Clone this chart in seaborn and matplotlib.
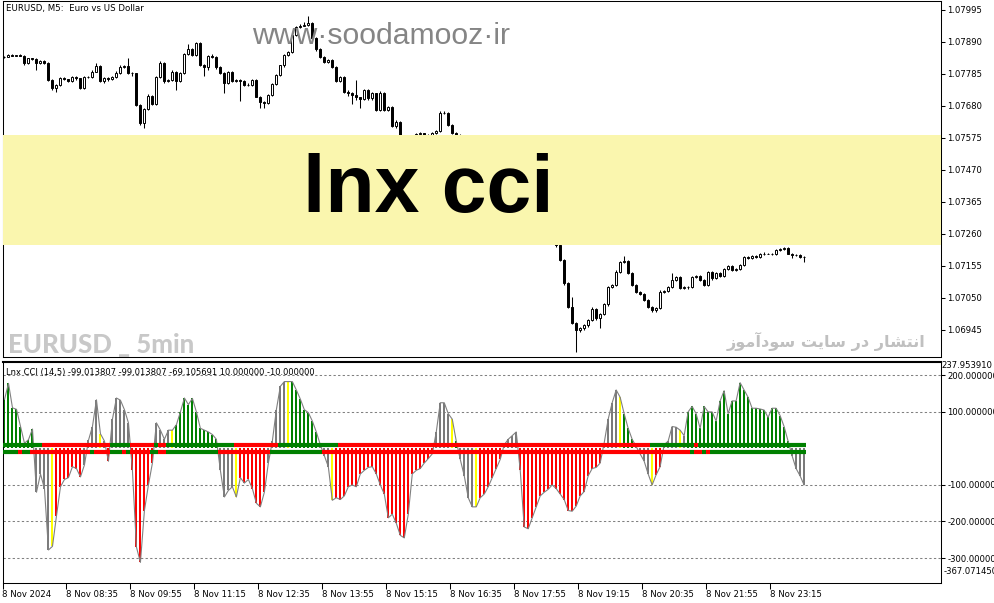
import numpy as np
import matplotlib
matplotlib.use("Agg")
import matplotlib.pyplot as plt
import seaborn as sns
from matplotlib.patches import Rectangle

# ------------------------------------------------------------------ data
# EURUSD M5 closes (in points, 1 point = 0.00001), bars 07:15 .. 23:55
first_open = 107840
closes = [
    107842, 107847, 107845, 107846, 107845, 107820, 107836, 107833, 107822, 107829,
    107822, 107765, 107738, 107749, 107771, 107767, 107763, 107776, 107771, 107738,
    107774, 107776, 107793, 107811, 107763, 107771, 107767, 107776, 107789, 107807,
    107811, 107789, 107787, 107683, 107623, 107669, 107713, 107686, 107774, 107820,
    107763, 107765, 107792, 107761, 107789, 107851, 107868, 107847, 107886, 107814,
    107807, 107845, 107840, 107807, 107789, 107754, 107792, 107762, 107765, 107761,
    107750, 107748, 107764, 107711, 107694, 107689, 107715, 107752, 107781, 107813,
    107847, 107858, 107913, 107940, 107944, 107946, 107951, 107902, 107866, 107842,
    107825, 107831, 107809, 107763, 107776, 107727, 107721, 107716, 107708, 107702,
    107732, 107705, 107721, 107667, 107724, 107667, 107676, 107614, 107629, 107579,
    107563, 107574, 107581, 107588, 107590, 107581, 107585, 107592, 107599, 107656,
    107658, 107618, 107592, 107585, 107569, 107536, 107487, 107454, 107444, 107454,
    107444, 107450, 107464, 107470, 107477, 107496, 107503, 107510, 107503, 107437,
    107355, 107332, 107339, 107332, 107323, 107306, 107290, 107267, 107224, 107175,
    107098, 107021, 106967, 106945, 106950, 106961, 106978, 107013, 106983, 106999,
    107030, 107087, 107092, 107136, 107169, 107172, 107131, 107092, 107071, 107063,
    107043, 107021, 107010, 107016, 107071, 107074, 107085, 107109, 107118, 107082,
    107085, 107085, 107118, 107123, 107109, 107092, 107136, 107114, 107131, 107123,
    107144, 107155, 107142, 107145, 107158, 107185, 107180, 107188, 107183, 107194,
    107196, 107196, 107194, 107207, 107210, 107213, 107196, 107191, 107191, 107185,
    107183,
]
# wick lengths beyond the body (points)
wick_up = [
    3, 4, 2, 2, 3, 2, 3, 2, 5, 3, 3, 2, 2, 3, 4, 3, 3, 3, 4, 2,
    3, 3, 6, 11, 3, 4, 4, 4, 5, 6, 4, 25, 3, 2, 2, 4, 5, 3, 3, 6,
    3, 3, 5, 3, 4, 4, 17, 3, 5, 3, 3, 3, 4, 3, 3, 3, 3, 3, 3, 3,
    3, 4, 4, 3, 3, 3, 3, 4, 3, 3, 4, 3, 3, 4, 6, 11, 24, 3, 3, 3,
    3, 4, 3, 3, 4, 3, 4, 4, 49, 3, 4, 5, 4, 3, 4, 3, 4, 3, 4, 3,
    3, 4, 3, 5, 4, 3, 3, 4, 3, 6, 4, 3, 3, 4, 3, 3, 4, 3, 3, 4,
    3, 3, 4, 3, 3, 5, 4, 3, 4, 3, 3, 4, 3, 3, 4, 3, 3, 4, 5, 3,
    3, 3, 33, 3, 5, 4, 3, 6, 3, 3, 4, 4, 4, 6, 3, 15, 3, 3, 3, 3,
    3, 3, 3, 3, 4, 3, 3, 22, 4, 3, 4, 4, 3, 4, 3, 3, 4, 3, 3, 3,
    3, 3, 3, 3, 3, 4, 3, 3, 3, 3, 4, 3, 3, 3, 4, 4, 3, 3, 3, 3,
    3,
]
wick_dn = [
    3, 2, 2, 2, 2, 5, 3, 2, 24, 3, 3, 3, 6, 11, 3, 3, 5, 3, 6, 3,
    3, 3, 3, 3, 4, 6, 4, 3, 3, 3, 3, 3, 8, 3, 5, 16, 3, 4, 3, 3,
    6, 5, 3, 27, 3, 3, 3, 4, 3, 3, 30, 10, 4, 4, 4, 33, 3, 4, 3, 66,
    4, 4, 3, 3, 22, 16, 3, 3, 3, 3, 4, 4, 3, 3, 3, 3, 3, 3, 4, 3,
    4, 4, 3, 3, 3, 5, 8, 30, 8, 30, 3, 4, 5, 5, 3, 5, 5, 4, 5, 4,
    4, 3, 4, 3, 3, 4, 3, 3, 4, 3, 3, 4, 3, 3, 4, 3, 3, 4, 3, 3,
    4, 3, 3, 4, 3, 3, 4, 3, 3, 4, 3, 3, 4, 3, 3, 4, 3, 3, 8, 3,
    5, 3, 3, 71, 8, 6, 5, 4, 4, 30, 5, 5, 4, 4, 4, 3, 3, 4, 4, 3,
    3, 4, 5, 5, 3, 3, 3, 3, 3, 3, 4, 4, 3, 3, 4, 3, 3, 4, 3, 5,
    3, 3, 3, 3, 3, 3, 3, 3, 3, 3, 4, 3, 3, 3, 3, 3, 3, 11, 4, 3,
    14,
]
# Lnx CCI values per bar
cci = [
    134, 178, 111, 107, 60, 14, 24, 53, -120, -70,
    -110, -278, -268, -185, -105, -85, -80, -50, -55, -78,
    -45, 22, 60, 133, 40, 20, -35, 80, 138, 132,
    106, 70, -60, -270, -312, -170, -100, -40, 70, 50,
    25, 50, 50, 65, 100, 138, 120, 137, 100, 55,
    50, 45, 38, 25, -60, -133, -115, -105, -133, -80,
    -95, -85, -110, -150, -160, -120, -40, 20, 106, 170,
    183, 183, 183, 160, 135, 106, 98, 75, 45, 10,
    -20, -50, -142, -135, -140, -130, -105, -100, -105, -70,
    -60, -52, -50, -70, -100, -125, -190, -180, -205, -238,
    -245, -180, -70, -60, -55, -40, -28, -15, 45, 125,
    125, 95, 80, 20, -30, -75, -135, -160, -160, -135,
    -125, -105, -80, -55, -30, 10, 25, 35, 45, -60,
    -215, -220, -190, -160, -130, -120, -112, -100, -110, -125,
    -140, -170, -172, -158, -130, -118, -75, -55, -52, -40,
    15, 80, 125, 160, 140, 95, 55, 25, 5, -15,
    -35, -70, -100, -72, -50, 10, 20, 60, 58, 50,
    35, 100, 115, 95, 55, 115, 100, 100, 75, 130,
    158, 95, 130, 130, 180, 160, 140, 110, 110, 108,
    105, 85, 110, 110, 90, 60, 20, -20, -55, -75,
    -100,
]
# histogram colour runs: G green, R red, Y yellow, N grey
hist_runs = [("G", 8), ("N", 4), ("Y", 1), ("R", 7), ("N", 4), ("Y", 1), ("N", 1), ("R", 1),
             ("N", 5), ("R", 6), ("N", 4), ("Y", 1), ("G", 11), ("N", 4), ("Y", 1), ("R", 7),
             ("N", 5), ("Y", 1), ("G", 7), ("N", 3), ("Y", 1), ("R", 25), ("N", 4), ("Y", 1),
             ("G", 1), ("N", 4), ("Y", 1), ("R", 6), ("N", 4), ("R", 21), ("N", 4), ("Y", 1),
             ("G", 3), ("N", 4), ("Y", 1), ("R", 2), ("N", 4), ("Y", 1), ("N", 1), ("G", 26),
             ("N", 4)]
# colour runs of the +10 and -10 level lines
upper_runs = [("G", 10), ("R", 17), ("G", 5), ("R", 6), ("G", 1), ("R", 2), ("G", 17),
              ("R", 11), ("G", 15), ("R", 78), ("G", 11), ("R", 1), ("G", 27)]
lower_runs = [("G", 4), ("R", 1), ("G", 2), ("R", 15), ("G", 1), ("R", 4), ("G", 3), ("R", 1),
              ("G", 1), ("R", 5), ("G", 2), ("R", 2), ("G", 13), ("R", 13), ("G", 13), ("R", 92),
              ("G", 1), ("R", 2), ("G", 1), ("R", 1), ("G", 24)]
levels = [10, -10]
grid_levels = [200, 100, -100, -200, -300]
cci_top, cci_bottom = 237.953910, -367.071450

price_ticks = [1.07995, 1.07890, 1.07785, 1.07680, 1.07575, 1.07470, 1.07365,
               1.07260, 1.07155, 1.07050, 1.06945]
time_tick_bars = [0, 16, 32, 48, 64, 80, 96, 112, 128, 144, 160, 176, 192]
time_tick_labels = ["8 Nov 2024", "8 Nov 08:35", "8 Nov 09:55", "8 Nov 11:15", "8 Nov 12:35",
                    "8 Nov 13:55", "8 Nov 15:15", "8 Nov 16:35", "8 Nov 17:55", "8 Nov 19:15",
                    "8 Nov 20:35", "8 Nov 21:55", "8 Nov 23:15"]

title_main = "EURUSD, M5:  Euro vs US Dollar"
title_ind = "Lnx CCI (14,5) -99.013807 -99.013807 -69.105691 10.000000 -10.000000"
banner_text = "lnx cci"
site_text = "www·soodamooz·ir"
corner_text = "EURUSD _ 5min"
persian_text = "انتشار در سایت سودآموز"

# ------------------------------------------------------------------ helpers
def expand(runs):
    return "".join(c * n for c, n in runs)

COL = {"G": "#008000", "R": "#ff0000", "Y": "#ffff00", "N": "#7a7a7a"}

FORMS = {  # isolated, final, initial, medial
    "ا": ("\uFE8D", "\uFE8E", None, None),
    "آ": ("\uFE81", "\uFE82", None, None),
    "د": ("\uFEA9", "\uFEAA", None, None),
    "ر": ("\uFEAD", "\uFEAE", None, None),
    "ز": ("\uFEAF", "\uFEB0", None, None),
    "و": ("\uFEED", "\uFEEE", None, None),
    "ن": ("\uFEE5", "\uFEE6", "\uFEE7", "\uFEE8"),
    "ت": ("\uFE95", "\uFE96", "\uFE97", "\uFE98"),
    "ش": ("\uFEB5", "\uFEB6", "\uFEB7", "\uFEB8"),
    "س": ("\uFEB1", "\uFEB2", "\uFEB3", "\uFEB4"),
    "م": ("\uFEE1", "\uFEE2", "\uFEE3", "\uFEE4"),
    "ی": ("\uFBFC", "\uFBFD", "\uFBFE", "\uFBFF"),
}


def shape(text):
    out = []
    for k, ch in enumerate(text):
        if ch not in FORMS:
            out.append(ch)
            continue
        prev = text[k - 1] if k > 0 else " "
        nxt = text[k + 1] if k + 1 < len(text) else " "
        jp = prev in FORMS and FORMS[prev][2] is not None
        jn = FORMS[ch][2] is not None and nxt in FORMS
        iso, fin, ini, med = FORMS[ch]
        out.append(med if (jp and jn) else fin if jp else ini if jn else iso)
    return "".join(reversed(out))


# ------------------------------------------------------------------ figure
sns.set_theme(style="white")
plt.rcParams["font.family"] = ["DejaVu Sans"]
plt.rcParams["axes.edgecolor"] = "black"
plt.rcParams["axes.linewidth"] = 0.75

W, H = 994, 603
fig = plt.figure(figsize=(W / 100, H / 100), dpi=100)
fig.patch.set_facecolor("white")


def fx(x):
    return x / W


def fy(y):
    return 1 - y / H


ax = fig.add_axes([fx(2.5), fy(357), fx(941) - fx(2.5), fy(1) - fy(357)])
ax2 = fig.add_axes([fx(2.5), fy(582.5), fx(941) - fx(2.5), fy(361.5) - fy(582.5)])

n = len(closes)
xs = np.arange(n)
c = np.array(closes) / 1e5
o = np.concatenate([[first_open], closes[:-1]]) / 1e5
top = np.maximum(o, c)
bot = np.minimum(o, c)
hi = top + np.array(wick_up) / 1e5
lo = bot - np.array(wick_dn) / 1e5

# candles
ax.vlines(xs, lo, hi, color="black", linewidth=0.75, zorder=2)
up = c >= o
ax.bar(xs[up], (top - bot)[up], bottom=bot[up], width=0.62, facecolor="white",
       edgecolor="black", linewidth=0.7, zorder=3)
ax.bar(xs[~up], (top - bot)[~up], bottom=bot[~up], width=0.62, facecolor="black",
       edgecolor="black", linewidth=0.7, zorder=3)

ax.set_xlim(-0.375, 234.25)
ax.set_ylim(1.068564, 1.080245)
ax.yaxis.tick_right()
ax.set_yticks(price_ticks)
ax.set_yticklabels([f"{p:.5f}" for p in price_ticks])
ax.tick_params(axis="y", direction="out", length=3, width=0.75, pad=1.5,
               labelsize=6.1, colors="black", right=True, left=False)
ax.tick_params(axis="x", bottom=False, labelbottom=False)
ax.set_facecolor("white")
for s in ax.spines.values():
    s.set_color("black")
    s.set_linewidth(0.75)

# banner
ax.add_patch(Rectangle((0, 0.3146), 1, 0.309, transform=ax.transAxes,
                       facecolor="#faf6ae", edgecolor="none", zorder=5))
fig.text(fx(428), fy(212), banner_text, ha="center", va="baseline",
         fontsize=58, fontweight="bold", family=["Liberation Sans", "DejaVu Sans"],
         color="black", zorder=10)
fig.text(fx(252), fy(44), site_text, ha="left", va="baseline", fontsize=21.7,
         family=["Liberation Sans", "DejaVu Sans"], color="#858585", zorder=10)
fig.text(fx(8), fy(353), corner_text, ha="left", va="baseline", fontsize=18.5,
         fontweight=900, family=["Lato", "DejaVu Sans"],
         color="#c8c8c8", zorder=10)
fig.text(fx(925), fy(347), shape(persian_text), ha="right", va="baseline", fontsize=11.6,
         fontweight="bold", family=["DejaVu Sans"], color="#c0c0c0", zorder=10)
fig.text(fx(6), fy(8.5), title_main, ha="left", va="center", fontsize=6.2, color="black")

# ------------------------------------------------------------------ indicator
for v in grid_levels:
    ax2.axhline(v, color="#808080", linewidth=0.75, linestyle=(0, (2.2, 2.2)), zorder=1)

hist_codes = expand(hist_runs)
ax2.bar(xs, cci, width=0.5, color=[COL[k] for k in hist_codes], linewidth=0, zorder=2)
sns.lineplot(x=xs, y=np.array(cci, dtype=float), ax=ax2, color="#808080",
             linewidth=0.8, legend=False, zorder=3)

for lev, runs in zip(levels, [upper_runs, lower_runs]):
    start = 0
    for code, cnt in runs:
        ax2.plot([start - 0.5, start + cnt - 0.5], [lev, lev], color=COL[code],
                 linewidth=3.0, solid_capstyle="butt", zorder=4)
        start += cnt

ax2.set_xlim(-0.375, 234.25)
ax2.set_ylim(cci_bottom, cci_top)
ax2.set_xlabel("")
ax2.set_ylabel("")
ax2.yaxis.tick_right()
ax2.set_yticks(grid_levels)
ax2.set_yticklabels([f"{v:.6f}" for v in grid_levels])
ax2.tick_params(axis="y", direction="out", length=3, width=0.75, pad=1.5,
                labelsize=6.1, colors="black", right=True, left=False)
ax2.set_xticks([b - 0.5 for b in time_tick_bars])
ax2.set_xticklabels(time_tick_labels)
ax2.tick_params(axis="x", direction="out", length=4, width=0.75, pad=1.5,
                labelsize=6.1, colors="black", bottom=True)
for lab in ax2.get_xticklabels():
    lab.set_horizontalalignment("left")
for s in ax2.spines.values():
    s.set_color("black")
    s.set_linewidth(0.75)
ax2.spines["top"].set_linewidth(1.5)
ax2.set_facecolor("white")

ax2.text(1.0, 1.0, f"{cci_top:.6f}", transform=ax2.transAxes, ha="left", va="top",
         fontsize=6.1, color="black", clip_on=False)
fig.text(fx(944), fy(571), f"{cci_bottom:.6f}", ha="left", va="center",
         fontsize=6.1, color="black")
fig.text(fx(6), fy(372), title_ind, ha="left", va="center", fontsize=6.0, color="black")

fig.savefig("out.png", dpi=100)
